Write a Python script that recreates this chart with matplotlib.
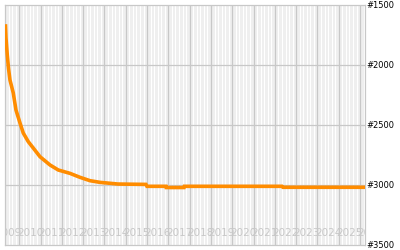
import numpy as np
import matplotlib
matplotlib.use("Agg")
import matplotlib.pyplot as plt
import matplotlib.transforms as mtransforms

# rank history, x in decimal years, y = rank (lower is better)
years = [2009.35, 2009.376, 2009.437, 2009.493, 2009.563, 2009.718, 2009.845,
         2010.033, 2010.188, 2010.423, 2010.657, 2010.972, 2011.441, 2011.831,
         2012.380, 2012.850, 2013.319, 2013.789, 2014.634, 2015.948, 2015.995,
         2016.887, 2016.90, 2017.732, 2017.75, 2022.333, 2022.38, 2026.3]
rank = [1660, 1775, 1917, 2025, 2125, 2233, 2375,
        2483, 2567, 2639, 2692, 2764, 2833, 2875,
        2903, 2936, 2964, 2978, 2992, 2995, 3011,
        3011, 3021, 3021, 3011, 3011, 3019, 3019]

year_labels = [str(y) for y in range(2009, 2027)]
rank_ticks = [1500, 2000, 2500, 3000, 3500]

fig = plt.figure(figsize=(4, 2.5), dpi=100)
ax = fig.add_axes([5 / 400, 5 / 250, 360 / 400, 240 / 250])
ax.set_facecolor("#efefef")

x0, x1 = 2009.33, 2026.23
ax.set_xlim(x0, x1)
ax.set_ylim(3500, 1500)

# thin white stripes every two months
for m in np.arange(2009, 2027, 1 / 6):
    if x0 < m < x1:
        ax.axvline(m, color="white", lw=0.8, zorder=0)
# yearly grid
for y in range(2010, 2027):
    if x0 < y < x1:
        ax.axvline(y, color="#c8c8c8", lw=0.9, zorder=1)
for r in rank_ticks[1:-1]:
    ax.axhline(r, color="#c8c8c8", lw=0.9, zorder=1)

ax.plot(years, rank, color="#ff8c00", lw=2.6, zorder=3,
        solid_joinstyle="miter", solid_capstyle="butt")

# year labels inside the plot, clipped to it
trans = mtransforms.blended_transform_factory(ax.transData, ax.transAxes)
for lab in year_labels:
    ax.text(int(lab) + 0.5, 0.05, lab, transform=trans, ha="center", va="center",
            fontsize=7.5, color="#c8c8c8", clip_on=True, zorder=2)

ax.set_xticks([])
ax.set_yticks([])
for r in rank_ticks:
    ax.text(1.005, (3500 - r) / 2000, f"#{r}", transform=ax.transAxes,
            ha="left", va="center", fontsize=6, color="black")

for s in ax.spines.values():
    s.set_color("#c8c8c8")
    s.set_linewidth(0.9)

fig.savefig("out.png", dpi=100)
